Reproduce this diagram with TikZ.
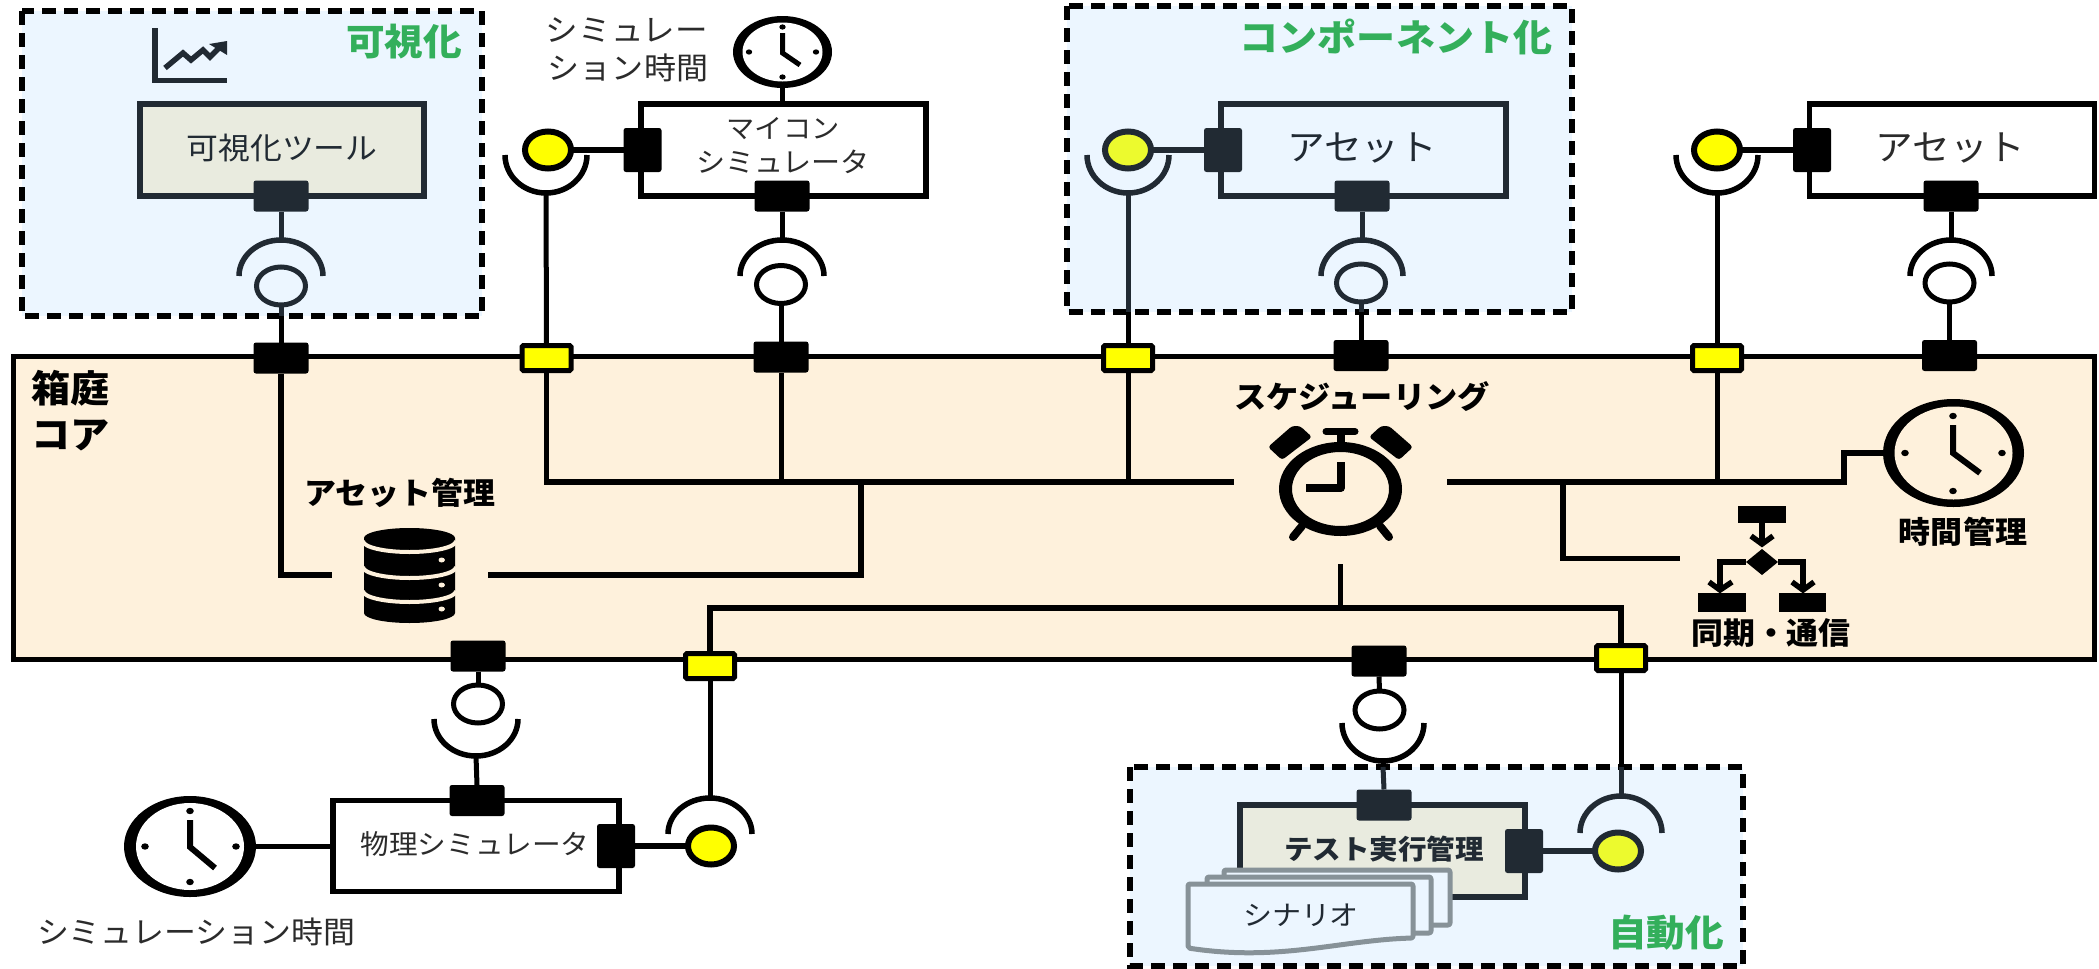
\documentclass[tikz,border=0pt]{standalone}
\usepackage{fontspec}
\usetikzlibrary{shapes.geometric,calc}
\selectcolormodel{rgb}
\newfontfamily\jp[FakeStretch=1.05]{Noto Sans CJK JP}
\definecolor{coreFill}{rgb}{0.996,0.945,0.863}
\definecolor{groupFill}{rgb}{0.925,0.965,1}
\definecolor{toolFill}{HTML}{E9EBDF}
\definecolor{inkDark}{HTML}{212A33}
\definecolor{titleGreen}{HTML}{33AF5B}
\definecolor{sheetGrey}{HTML}{879298}
\definecolor{paleYellow}{rgb}{0.925,0.98,0.18}
\definecolor{pureYellow}{rgb}{1,1,0}
\definecolor{thinText}{HTML}{2B2B2B}
\tikzset{
  wire/.style={draw=black,line width=5.5pt,line cap=butt},
  vwire/.style={draw=black,line width=5pt,line cap=butt},
  dwire/.style={draw=inkDark,line width=5pt,line cap=butt},
  groupbox/.style={fill=groupFill},
  groupline/.style={draw=black,line width=5.5pt,dash pattern=on 14pt off 8pt},
  blockport/.style={rectangle,rounded corners=2.5pt,fill=#1,inner sep=0,outer sep=0},
  blockport/.default=black,
  hport/.style={minimum width=55pt,minimum height=31pt},
  sport/.style={minimum width=38pt,minimum height=44pt},
  yport/.style={rectangle,rounded corners=1.5pt,fill=pureYellow,draw=black,line width=5pt,inner sep=0,outer sep=0,minimum width=49pt,minimum height=25pt},
  ball/.style={ellipse,inner sep=0,outer sep=0,line width=6pt,minimum width=46pt,minimum height=37pt},
  ringnode/.style={ellipse,inner sep=0,outer sep=0,line width=5pt,minimum width=49pt,minimum height=38pt},
  compbox/.style={rectangle,inner sep=0,outer sep=0,line width=5.5pt},
  sheet/.style={draw=sheetGrey,fill=groupFill,line width=5pt,rounded corners=2pt,line join=round},
  lab/.style={font=\jp\fontsize{#1}{#1}\selectfont,inner sep=0,outer sep=0,text=thinText},
  blab/.style={font=\jp\bfseries\fontsize{#1}{#1}\selectfont,inner sep=0,outer sep=0,text=black},
  glab/.style={font=\jp\bfseries\fontsize{#1}{#1}\selectfont,inner sep=0,outer sep=0,text=titleGreen},
  ovalblack/.style={ellipse,fill=black,inner sep=0,outer sep=0},
  hand/.style={draw=black,line width=6pt,line cap=butt,line join=miter},
  flowline/.style={draw=black,line width=5.5pt,line cap=butt},
  sockline/.style={line width=5.5pt,line cap=butt},
}
\begin{document}
\begin{tikzpicture}[x=1pt,y=-1pt]
\useasboundingbox (0,0) rectangle (2099,969);
\fill[white] (0,0) rectangle (2099,969);

% core
\node[rectangle,draw=black,fill=coreFill,line width=5pt,inner sep=0,outer sep=0,minimum width=2081pt,minimum height=303pt] (core) at (1054,507.5) {};

% group fills and borders
\fill[groupbox] (22,11) rectangle (482,316);
\fill[groupbox] (1067,6) rectangle (1572,312);
\fill[groupbox] (1130,767) rectangle (1743,966);
\draw[groupline] (22,11) rectangle (482,316);
\draw[groupline] (1067,6) rectangle (1572,312);
\draw[groupline] (1130,767) rectangle (1743,966);

% component boxes
\node[compbox,draw=inkDark,fill=toolFill,minimum width=284pt,minimum height=92pt] (toolbox) at (282,150) {};
\node[compbox,draw=black,fill=white,minimum width=285pt,minimum height=92pt] (mcubox) at (783.5,150) {};
\node[compbox,draw=inkDark,fill=groupFill,minimum width=285pt,minimum height=92pt] (assetA) at (1363.5,150) {};
\node[compbox,draw=black,fill=white,minimum width=285pt,minimum height=92pt] (assetB) at (1952,150) {};
\node[compbox,draw=black,fill=white,minimum width=286pt,minimum height=91pt] (physbox) at (476,846) {};
\node[compbox,draw=inkDark,fill=toolFill,minimum width=285pt,minimum height=92pt] (testbox) at (1382.5,851) {};

% core ports
\node[blockport,hport] (cpA) at (281,358) {};
\node[yport] (ypA) at (546.5,358) {};
\node[blockport,hport] (cpB) at (781,357) {};
\node[yport] (ypB) at (1128,358) {};
\node[blockport,hport] (cpC) at (1361,355.5) {};
\node[yport] (ypC) at (1717,358) {};
\node[blockport,hport] (cpD) at (1949.5,355.5) {};
\node[blockport,hport] (cpE) at (478,656) {};
\node[yport] (ypD) at (710,666) {};
\node[blockport,hport] (cpF) at (1379,661) {};
\node[yport] (ypE) at (1621,658) {};

% component ports
\node[blockport=inkDark,hport] (toolP) at (281,196) {};
\node[blockport,hport] (mcuP) at (782,196) {};
\node[blockport=inkDark,hport] (assetAP) at (1362,196) {};
\node[blockport,hport] (assetBP) at (1951,196) {};
\node[blockport,hport] (physP) at (477,800.5) {};
\node[blockport=inkDark,hport] (testP) at (1384,805) {};
\node[blockport,sport] (mcuS) at (642.5,150) {};
\node[blockport=inkDark,sport] (assetAS) at (1223,150) {};
\node[blockport,sport] (assetBS) at (1812,150) {};
\node[blockport,sport] (physS) at (616,846) {};
\node[blockport=inkDark,sport] (testS) at (1524,851) {};

% ring ends
\node[ringnode,draw=inkDark,fill=groupFill] (rA) at (281,286) {};
\node[ringnode,draw=black,fill=white] (rB) at (781,284.5) {};
\node[ringnode,draw=inkDark,fill=groupFill] (rC) at (1361,283) {};
\node[ringnode,draw=black,fill=white] (rD) at (1949.5,283) {};
\node[ringnode,draw=black,fill=white] (rE) at (478,704) {};
\node[ringnode,draw=black,fill=white] (rF) at (1379.5,710) {};

% yellow ends
\node[ball,draw=black,fill=pureYellow] (bA) at (548,150) {};
\node[ball,draw=inkDark,fill=paleYellow] (bB) at (1128,150) {};
\node[ball,draw=black,fill=pureYellow] (bC) at (1717,150) {};
\node[ball,draw=black,fill=pureYellow] (bD) at (711,846) {};
\node[ball,draw=inkDark,fill=paleYellow] (bE) at (1618,851) {};

% clocks
\node[ovalblack,minimum width=99pt,minimum height=72pt] (clkMcu) at (782.5,52) {};
\node[ellipse,fill=white,inner sep=0,minimum width=80pt,minimum height=59pt] (clkMcuIn) at (782.5,52) {};
\draw[hand,line width=5pt] (782.5,33) -- (782.5,53) -- (800,65);
\foreach \p in {(782.5,27),(749,52),(816,52),(782.5,77)} \fill[black] \p ellipse [x radius=3.2,y radius=2.6];

\node[ovalblack,minimum width=132pt,minimum height=101pt] (clkPhys) at (190,846.5) {};
\node[ellipse,fill=white,inner sep=0,minimum width=108pt,minimum height=87pt] (clkPhysIn) at (190,846.5) {};
\draw[hand] (190,820) -- (190,847) -- (215,868);
\foreach \p in {(190,811),(145,846.5),(236,846.5),(190,882)} \fill[black] \p ellipse [x radius=3.8,y radius=3.2];

\node[ovalblack,minimum width=141pt,minimum height=108pt] (clkTime) at (1953.5,453) {};
\node[ellipse,fill=coreFill,inner sep=0,minimum width=118pt,minimum height=93pt] (clkTimeIn) at (1953.5,453) {};
\draw[hand] (1953,425) -- (1953,453) -- (1980,473);
\foreach \p in {(1953,416),(1905,453),(2002,453),(1953,491)} \fill[black] \p ellipse [x radius=3.8,y radius=3.2];

% socket reference points
\coordinate (sA) at (281,240);
\coordinate (sB) at (782,240);
\coordinate (sC) at (1362,240);
\coordinate (sD) at (1951,240);
\coordinate (sE) at (476,756);
\coordinate (sF) at (1383,761);
\coordinate (sG) at (546,193);
\coordinate (sH) at (1128,193);
\coordinate (sI) at (1717,193);
\coordinate (sJ) at (710,798);
\coordinate (sK) at (1621,796);

% sockets
\draw[sockline,inkDark] ($(sA)+(-42,36)$) arc[start angle=180,end angle=360,x radius=42,y radius=36];
\draw[sockline,black] ($(sB)+(-42,36)$) arc[start angle=180,end angle=360,x radius=42,y radius=36];
\draw[sockline,inkDark] ($(sC)+(-41,36)$) arc[start angle=180,end angle=360,x radius=41,y radius=36];
\draw[sockline,black] ($(sD)+(-41,36)$) arc[start angle=180,end angle=360,x radius=41,y radius=36];
\draw[sockline,black] ($(sE)+(-42,-37)$) arc[start angle=180,end angle=0,x radius=42,y radius=37];
\draw[sockline,black] ($(sF)+(-41,-38)$) arc[start angle=180,end angle=0,x radius=41,y radius=38];
\draw[sockline,black] ($(sG)+(-41,-38)$) arc[start angle=180,end angle=0,x radius=41,y radius=38];
\draw[sockline,inkDark] ($(sH)+(-41,-38)$) arc[start angle=180,end angle=0,x radius=41,y radius=38];
\draw[sockline,black] ($(sI)+(-41,-38)$) arc[start angle=180,end angle=0,x radius=41,y radius=38];
\draw[sockline,black] ($(sJ)+(-42,36)$) arc[start angle=180,end angle=360,x radius=42,y radius=36];
\draw[sockline,inkDark] ($(sK)+(-41,37)$) arc[start angle=180,end angle=360,x radius=41,y radius=37];

% free points
\coordinate (schedL) at (1234,482);
\coordinate (schedR) at (1447,482);
\coordinate (kink) at (1844,482);
\coordinate (dbL) at (332,575);
\coordinate (dbR) at (488,575);
\coordinate (trunkDb) at (861,482);
\coordinate (trunkFlow) at (1563,482);
\coordinate (flowIn) at (1680,558.5);
\coordinate (schedB) at (1340.5,564);
\coordinate (busY) at (1340.5,608);
\coordinate (borderA) at (281,316);
\coordinate (borderC) at (1361,312);
\coordinate (borderH) at (1128,312);
\coordinate (borderF) at (1383,767);
\coordinate (borderK) at (1621,767);

% connectors outside the core
\draw[dwire] (toolP.south) -- (sA);
\draw[dwire] (rA.south) -- (borderA);
\draw[vwire] (borderA) -- (cpA.north);
\draw[vwire] (mcuP.south) -- (sB);
\draw[vwire] (rB.south) -- (cpB.north);
\draw[dwire] (assetAP.south) -- (sC);
\draw[dwire] (rC.south) -- (borderC);
\draw[vwire] (borderC) -- (cpC.north);
\draw[vwire] (assetBP.south) -- (sD);
\draw[vwire] (rD.south) -- (cpD.north);
\draw[vwire] (cpE.south) -- (rE.north);
\draw[vwire] (sE) -- (physP.north);
\draw[vwire] (cpF.south) -- (rF.north);
\draw[vwire] (sF) -- (borderF);
\draw[dwire] (borderF) -- (testP.north);
\draw[vwire] (sG) -- (ypA.north);
\draw[dwire] (sH) -- (borderH);
\draw[vwire] (borderH) -- (ypB.north);
\draw[vwire] (sI) -- (ypC.north);
\draw[vwire] (ypD.south) -- (sJ);
\draw[vwire] (ypE.south) -- (borderK);
\draw[dwire] (borderK) -- (sK);
\draw[wire] (bA.east) -- (mcuS.west);
\draw[dwire,line width=5.5pt] (bB.east) -- (assetAS.west);
\draw[wire] (bC.east) -- (assetBS.west);
\draw[wire] (physS.east) -- (bD.west);
\draw[dwire,line width=5.5pt] (testS.east) -- (bE.west);
\draw[vwire] (clkMcu.south) -- (mcubox.north -| clkMcu.south);
\draw[wire] (clkPhys.east) -- (physbox.west |- clkPhys.east);

% connectors inside the core
\draw[wire] (ypA.south) |- (schedL);
\draw[vwire] (ypB.south) -- (ypB.south |- schedL);
\draw[vwire] (cpB.south) -- (cpB.south |- schedL);
\draw[wire] (cpA.south) |- (dbL);
\draw[wire] (trunkDb) |- (dbR);
\draw[wire] (schedR) -- (kink) |- (clkTime.west);
\draw[vwire] (ypC.south) -- (ypC.south |- schedR);
\draw[wire] (trunkFlow) |- (flowIn);
\draw[wire] (schedB) -- (busY);
\draw[wire] (ypD.north) |- (busY) -| (ypE.north);

% chart icon
\draw[draw=inkDark,line width=5.5pt,line cap=butt,line join=miter] (155,28) -- (155,80.5) -- (227,80.5);
\draw[draw=inkDark,line width=5.5pt,line join=miter] (165,68) -- (183,53) -- (191,60) -- (203,50) -- (210,57) -- (219,48);
\fill[inkDark] (209,44) -- (227,41) -- (227,55) -- cycle;

% database icon
\fill[black] (364,538) arc[start angle=180,end angle=360,x radius=45.5,y radius=10] -- (455,613) arc[start angle=0,end angle=180,x radius=45.5,y radius=10] -- cycle;
\foreach \yy in {541,567,591}
  \draw[draw=coreFill,line width=4pt] (363,\yy) arc[start angle=180,end angle=0,x radius=46.5,y radius=11];
\foreach \yy in {560,585,609}
  \fill[coreFill] (441.7,\yy) ellipse[x radius=3.2,y radius=2.5];

% alarm clock icon
\fill[black,even odd rule] (1340.5,489) ellipse[x radius=61.5,y radius=47] (1340.5,489) ellipse[x radius=48.5,y radius=37];
\fill[black,rounded corners=3pt] (1268,447) -- (1292,426) -- (1300,426) -- (1312,437) -- (1282,460) -- cycle;
\fill[black,rounded corners=3pt] (1413,447) -- (1389,426) -- (1381,426) -- (1369,437) -- (1399,460) -- cycle;
\draw[draw=black,line width=7pt,line cap=round] (1326,431.5) -- (1355,431.5);
\draw[draw=black,line width=8pt,line cap=butt] (1341,432) -- (1341,444);
\draw[draw=black,line width=8pt,line cap=round] (1302,526) -- (1293,537);
\draw[draw=black,line width=8pt,line cap=round] (1380,526) -- (1389,537);
\draw[draw=black,line width=8pt,line join=round,line cap=butt] (1340.7,462) -- (1340.7,488) -- (1306,488);

% flow icon
\fill[black] (1738,506) rectangle (1786,523);
\fill[black] (1698,593) rectangle (1746,612);
\fill[black] (1779,593) rectangle (1826,612);
\fill[black] (1746,562) -- (1762,549) -- (1778,562) -- (1762,575) -- cycle;
\draw[flowline] (1762,523) -- (1762,544);
\draw[flowline,line join=miter] (1751,536) -- (1762,544) -- (1773,536);
\draw[flowline,line join=miter] (1746,562) -- (1720,562) -- (1720,590);
\draw[flowline,line join=miter] (1709,582) -- (1720,590) -- (1732,582);
\draw[flowline,line join=miter] (1778,562) -- (1803,562) -- (1803,590);
\draw[flowline,line join=miter] (1792,582) -- (1803,590) -- (1814,582);

% scenario sheets
\draw[sheet] (1224,870) -- (1450,870) -- (1450,925) -- (1224,925) -- cycle;
\draw[sheet] (1207,877) -- (1431,877) -- (1431,933) -- (1207,933) -- cycle;
\draw[sheet] (1188,884) -- (1413,884) -- (1413,938) .. controls (1340,940) and (1280,962) .. (1188,948) -- cycle;

% labels
\node[glab=36.8] (tVis) at (404,42) {可視化};
\node[glab=37.2] (tComp) at (1396,37) {コンポーネント化};
\node[glab=36.8] (tAuto) at (1666,933) {自動化};
\node[lab=30.3,text=inkDark] (lTool) at (282,148) {可視化ツール};
\node[lab=31] (lSimA) at (627,30) {シミュレー};
\node[lab=30.5] (lSimB) at (628,68) {ション時間};
\node[lab=26.9] (lMcuA) at (783,129) {マイコン};
\node[lab=27.7] (lMcuB) at (783,162) {シミュレータ};
\node[lab=35.8,text=inkDark] (lAssetA) at (1362,148) {アセット};
\node[lab=35.8] (lAssetB) at (1950.5,148) {アセット};
\node[lab=27.3] (lPhys) at (475,844) {物理シミュレータ};
\node[lab=30.4] (lSimC) at (196,932) {シミュレーション時間};
\node[lab=27.6,text=inkDark] (lScen) at (1301,915) {シナリオ};
\node[blab=27.2,text=inkDark] (lTest) at (1384,849) {テスト実行管理};
\node[blab=37.3] (lCoreA) at (71,388) {箱庭};
\node[blab=37.3] (lCoreB) at (71,435) {コア};
\node[blab=30.4] (lDb) at (400,493) {アセット管理};
\node[blab=30.7] (lSched) at (1362,397) {スケジューリング};
\node[blab=30.5] (lTime) at (1963,532) {時間管理};
\node[blab=30.4] (lSync) at (1771,633) {同期・通信};
\end{tikzpicture}
\end{document}
